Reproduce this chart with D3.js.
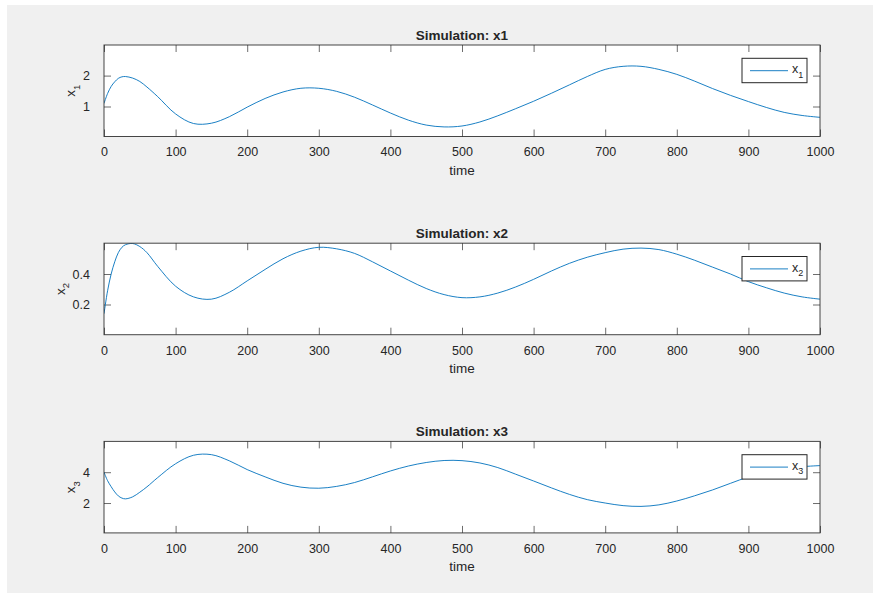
<!DOCTYPE html>
<html>
<head>
<meta charset="utf-8">
<script src="https://cdn.jsdelivr.net/npm/d3@7"></script>
<style>
  html, body { margin: 0; padding: 0; background: #ffffff; }
  svg { display: block; }
  text { font-family: "Liberation Sans", Arial, Helvetica, sans-serif; fill: #262626; }
</style>
</head>
<body>
<svg id="chart" width="873" height="593"></svg>
<script>
// ---- data ----
const time = [0,5,10,15,20,25,30,40,50,60,75,100,125,150,175,200,225,250,275,300,325,350,375,400,425,450,475,500,525,550,575,600,625,650,675,700,725,750,775,800,825,850,875,900,925,950,975,1000];
const x1 = [1.10,1.42,1.65,1.80,1.91,1.96,1.97,1.92,1.81,1.63,1.32,0.76,0.45,0.46,0.67,0.98,1.26,1.47,1.59,1.59,1.49,1.30,1.05,0.79,0.56,0.40,0.34,0.37,0.50,0.70,0.93,1.17,1.43,1.70,1.97,2.20,2.30,2.30,2.20,2.04,1.82,1.58,1.36,1.16,0.97,0.81,0.71,0.65];
const x2 = [0.14,0.29,0.40,0.48,0.54,0.575,0.592,0.60,0.58,0.54,0.45,0.32,0.25,0.235,0.28,0.355,0.43,0.50,0.55,0.575,0.565,0.535,0.48,0.42,0.36,0.305,0.265,0.245,0.25,0.275,0.315,0.365,0.42,0.47,0.51,0.54,0.563,0.57,0.56,0.53,0.49,0.445,0.40,0.35,0.31,0.275,0.25,0.235];
const x3 = [4.0,3.45,3.06,2.72,2.46,2.32,2.27,2.40,2.70,3.05,3.65,4.55,5.10,5.14,4.74,4.17,3.70,3.28,3.03,2.96,3.08,3.33,3.70,4.08,4.40,4.63,4.76,4.75,4.60,4.30,3.87,3.43,2.98,2.56,2.22,2.00,1.83,1.78,1.88,2.13,2.47,2.85,3.28,3.70,4.05,4.25,4.36,4.43];
const titles = ["Simulation: x1", "Simulation: x2", "Simulation: x3"];
const seriesNames = ["1", "2", "3"];   // subscripts of x
const xTicks = [0,100,200,300,400,500,600,700,800,900,1000];
const yTicks1 = [1, 2];
const yTicks2 = [0.2, 0.4];
const yTicks3 = [2, 4];
const yDomain1 = [0.03, 2.99];
const yDomain2 = [0.002, 0.602];
const yDomain3 = [0.06, 6.0];
const xLabel = "time";

// ---- layout ----
const svg = d3.select("#chart");
svg.append("rect").attr("x", 7).attr("y", 5).attr("width", 866).attr("height", 588).attr("fill", "#f0f0f0");

const left = 104, right = 820, axH = 91.5;
const tops = [45, 243.2, 441.4];
const panels = [
  { y: x1, ticks: yTicks1, dom: yDomain1, fmt: d3.format("d") },
  { y: x2, ticks: yTicks2, dom: yDomain2, fmt: d3.format(".1f") },
  { y: x3, ticks: yTicks3, dom: yDomain3, fmt: d3.format("d") }
];
const axisColor = "#262626";
const tickLen = 7;
const lineColor = "#0072BD";

panels.forEach((p, i) => {
  const top = tops[i], bottom = top + axH;
  const xs = d3.scaleLinear().domain([0, 1000]).range([left, right]);
  const ys = d3.scaleLinear().domain(p.dom).range([bottom, top]);
  const g = svg.append("g");

  g.append("rect").attr("x", left).attr("y", top).attr("width", right - left).attr("height", axH)
    .attr("fill", "#ffffff");

  const cid = "clip" + i;
  svg.append("clipPath").attr("id", cid).append("rect")
    .attr("x", left).attr("y", top).attr("width", right - left).attr("height", axH);

  const bottomAxis = d3.axisBottom(xs).tickValues(xTicks).tickSize(-tickLen).tickPadding(13).tickFormat(d3.format("d"));
  const topAxis = d3.axisTop(xs).tickValues(xTicks).tickSize(-tickLen).tickFormat("");
  const leftAxis = d3.axisLeft(ys).tickValues(p.ticks).tickSize(-tickLen).tickPadding(14).tickFormat(p.fmt);
  const rightAxis = d3.axisRight(ys).tickValues(p.ticks).tickSize(-tickLen).tickFormat("");

  const gb = g.append("g").attr("transform", `translate(0,${bottom})`).call(bottomAxis);
  const gt = g.append("g").attr("transform", `translate(0,${top})`).call(topAxis);
  const gl = g.append("g").attr("transform", `translate(${left},0)`).call(leftAxis);
  const gr = g.append("g").attr("transform", `translate(${right},0)`).call(rightAxis);
  [gb, gt, gl, gr].forEach(a => {
    a.select(".domain").remove();
    a.selectAll(".tick line").attr("stroke", axisColor).attr("stroke-width", 0.8).attr("opacity", 0.85);
    a.selectAll("text").attr("font-size", "12.5px").attr("fill", axisColor)
      .attr("font-family", '"Liberation Sans", Arial, sans-serif');
  });
  gb.selectAll(".tick text").attr("dy", "0.71em").attr("y", 11);

  const line = d3.line().x((d, k) => xs(time[k])).y(d => ys(d)).curve(d3.curveCatmullRom.alpha(0.5));
  g.append("path").datum(p.y).attr("d", line).attr("fill", "none")
    .attr("stroke", lineColor).attr("stroke-width", 0.9).attr("clip-path", `url(#${cid})`);

  g.append("rect").attr("x", left).attr("y", top).attr("width", right - left).attr("height", axH)
    .attr("fill", "none").attr("stroke", axisColor).attr("stroke-width", 1).attr("opacity", 0.85);

  g.append("text").attr("x", (left + right) / 2).attr("y", top - 5.5).attr("text-anchor", "middle")
    .attr("font-size", "13.5px").attr("font-weight", "bold").attr("fill", "#000").text(titles[i]);

  g.append("text").attr("x", (left + right) / 2).attr("y", bottom + 38).attr("text-anchor", "middle")
    .attr("font-size", "13.5px").attr("fill", axisColor).text(xLabel);

  let maxW = 0;
  gl.selectAll(".tick text").each(function () { maxW = Math.max(maxW, this.getBBox().width); });
  const ylx = left - tickLen - maxW - 15;
  const yl = g.append("text").attr("transform", `translate(${ylx},${(top + bottom) / 2}) rotate(-90)`)
    .attr("text-anchor", "middle").attr("font-size", "13.5px").attr("fill", axisColor);
  yl.append("tspan").text("x");
  yl.append("tspan").attr("dy", 4.5).attr("font-size", "9.5px").text(seriesNames[i]);

  const lx = right - 13 - 65, ly = top + 13.3;
  const lg = g.append("g");
  lg.append("rect").attr("x", lx).attr("y", ly).attr("width", 65).attr("height", 24.4)
    .attr("fill", "#ffffff").attr("stroke", axisColor).attr("stroke-width", 1);
  lg.append("line").attr("x1", lx + 8).attr("x2", lx + 46).attr("y1", ly + 12.4).attr("y2", ly + 12.4)
    .attr("stroke", lineColor).attr("stroke-width", 0.9);
  const lt = lg.append("text").attr("x", lx + 50).attr("y", ly + 15).attr("font-size", "12.5px").attr("fill", axisColor);
  lt.append("tspan").text("x");
  lt.append("tspan").attr("dy", 4.5).attr("font-size", "9px").text(seriesNames[i]);
});
</script>
</body>
</html>
